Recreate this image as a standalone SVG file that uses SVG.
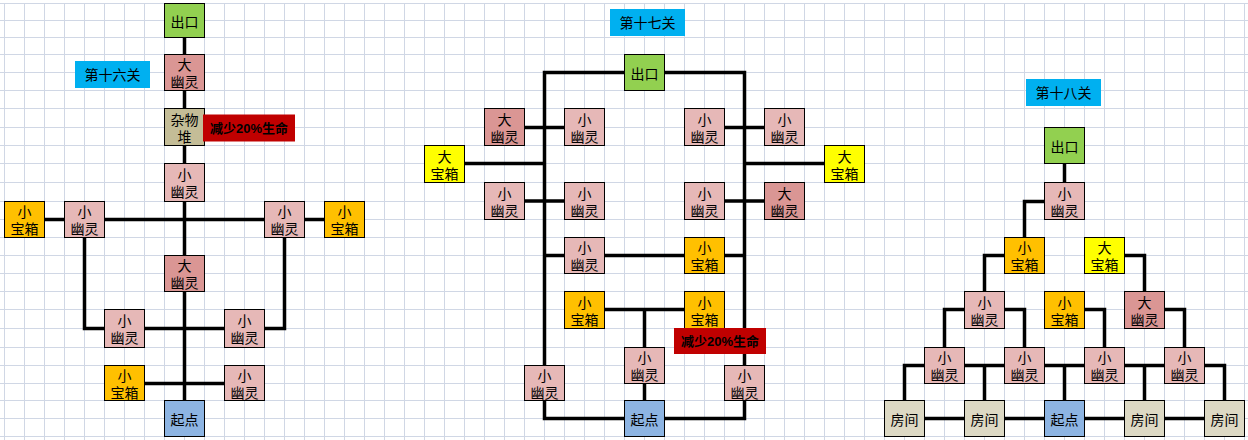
<svg xmlns="http://www.w3.org/2000/svg" width="1248" height="440" viewBox="0 0 1248 440">
<defs>
<style>
.box{stroke:#000;stroke-width:1}
.exit{fill:#92D050}.bg{fill:#DA9694}.sg{fill:#E6B8B7}.junk{fill:#C4BD97}.sc{fill:#FFC000}.bc{fill:#FFFF00}.start{fill:#8DB4E2}.room{fill:#DDD9C4}
.lbl{fill:#00B0F0}.warn{fill:#C00000}
text{font-family:"Liberation Sans","Noto Sans CJK SC",sans-serif;font-size:14px;text-anchor:middle;fill:#000}
text.w{font-weight:bold;font-size:13px;fill:#000}
.conn{fill:none;stroke:#000;stroke-width:3.5;stroke-linejoin:miter;stroke-linecap:butt}
.grid{fill:none;stroke:#D0D7E5;stroke-width:1}
</style>
<pattern id="vg" x="0" y="0" width="20" height="10" patternUnits="userSpaceOnUse"><rect x="4" y="0" width="1" height="10" fill="#D0D7E5"/></pattern>
</defs>
<rect width="1248" height="440" fill="#fff"/>
<g id="grid">
<rect x="0" y="3" width="1248" height="437" fill="url(#vg)"/>
<path class="grid" d="M0 3.5H1248M0 20.5H1248M0 37.5H1248M0 54.5H1248M0 72.5H1248M0 90.5H1248M0 108.5H1248M0 127.5H1248M0 145.5H1248M0 163.5H1248M0 182.5H1248M0 201.5H1248M0 219.5H1248M0 237.5H1248M0 255.5H1248M0 273.5H1248M0 291.5H1248M0 309.5H1248M0 328.5H1248M0 347.5H1248M0 365.5H1248M0 383.5H1248M0 400.5H1248M0 418.5H1248M0 436.5H1248"/>
</g>
<g id="connectors" class="conn">
<path d="M184.5 37V400"/>
<path d="M44 219.5H324"/>
<path d="M84.5 237V328.5H284.5V237"/>
<path d="M144 383.5H224"/>
<path d="M624 72.5H544.5V418.5H744.5V72.5H664"/>
<path d="M524 127.5H564M724 127.5H764"/>
<path d="M464 163.5H544M744 163.5H824"/>
<path d="M524 201H564M724 201H764"/>
<path d="M544.5 255.5H744.5"/>
<path d="M604 309.5H684M644.5 309.5V400"/>
<path d="M1064.5 163V182"/>
<path d="M1044 201.5H1024.5V237"/>
<path d="M1004 255.5H984.5V291M1124 255.5H1144.5V291"/>
<path d="M964 309.5H944.5V347M1004 309.5H1024.5V347M1084 309.5H1104.5V347M1164 309.5H1184.5V347"/>
<path d="M904.5 400V365.5H1224.5V400M984.5 365.5V400M1064.5 365.5V400M1144.5 365.5V400"/>
<path d="M924 418.5H1204"/>
</g>
<!-- Stage 16 -->
<g id="s16-label"><rect class="lbl" x="75" y="61" width="75" height="27"/><text x="112.5" y="80">第十六关</text></g>
<g id="s16-exit"><rect class="box exit" x="164.5" y="3.5" width="40" height="34"/><text x="184.5" y="27">出口</text></g>
<g id="s16-bg1"><rect class="box bg" x="164.5" y="54.5" width="40" height="36"/><text x="184.5" y="70">大<tspan x="184.5" dy="17">幽灵</tspan></text></g>
<g id="s16-junk"><rect class="box junk" x="164.5" y="108.5" width="40" height="37"/><text x="184.5" y="124.5">杂物<tspan x="184.5" dy="17">堆</tspan></text></g>
<g id="s16-sg1"><rect class="box sg" x="164.5" y="163.5" width="40" height="38"/><text x="184.5" y="180">小<tspan x="184.5" dy="17">幽灵</tspan></text></g>
<g id="s16-sc1"><rect class="box sc" x="4.5" y="201.5" width="40" height="36"/><text x="24.5" y="217">小<tspan x="24.5" dy="17">宝箱</tspan></text></g>
<g id="s16-sg2"><rect class="box sg" x="64.5" y="201.5" width="40" height="36"/><text x="84.5" y="217">小<tspan x="84.5" dy="17">幽灵</tspan></text></g>
<g id="s16-sg3"><rect class="box sg" x="264.5" y="201.5" width="40" height="36"/><text x="284.5" y="217">小<tspan x="284.5" dy="17">幽灵</tspan></text></g>
<g id="s16-sc2"><rect class="box sc" x="324.5" y="201.5" width="40" height="36"/><text x="344.5" y="217">小<tspan x="344.5" dy="17">宝箱</tspan></text></g>
<g id="s16-bg2"><rect class="box bg" x="164.5" y="255.5" width="40" height="36"/><text x="184.5" y="271">大<tspan x="184.5" dy="17">幽灵</tspan></text></g>
<g id="s16-sg4"><rect class="box sg" x="104.5" y="309.5" width="40" height="38"/><text x="124.5" y="326">小<tspan x="124.5" dy="17">幽灵</tspan></text></g>
<g id="s16-sg5"><rect class="box sg" x="224.5" y="309.5" width="40" height="38"/><text x="244.5" y="326">小<tspan x="244.5" dy="17">幽灵</tspan></text></g>
<g id="s16-sc3"><rect class="box sc" x="104.5" y="365.5" width="40" height="35"/><text x="124.5" y="380.5">小<tspan x="124.5" dy="17">宝箱</tspan></text></g>
<g id="s16-sg6"><rect class="box sg" x="224.5" y="365.5" width="40" height="35"/><text x="244.5" y="380.5">小<tspan x="244.5" dy="17">幽灵</tspan></text></g>
<g id="s16-start"><rect class="box start" x="164.5" y="400.5" width="40" height="36"/><text x="184.5" y="424.5">起点</text></g>
<g id="s16-warn"><rect class="warn" x="203" y="114.5" width="92" height="27"/><text class="w" x="249" y="132.5">减少20%生命</text></g>
<!-- Stage 17 -->
<g id="s17-label"><rect class="lbl" x="610" y="9" width="75" height="27"/><text x="647.5" y="28">第十七关</text></g>
<g id="s17-exit"><rect class="box exit" x="624.5" y="54.5" width="40" height="36"/><text x="644.5" y="79">出口</text></g>
<g id="s17-bg1"><rect class="box bg" x="484.5" y="108.5" width="40" height="37"/><text x="504.5" y="124.5">大<tspan x="504.5" dy="17">幽灵</tspan></text></g>
<g id="s17-sg1"><rect class="box sg" x="564.5" y="108.5" width="40" height="37"/><text x="584.5" y="124.5">小<tspan x="584.5" dy="17">幽灵</tspan></text></g>
<g id="s17-sg2"><rect class="box sg" x="684.5" y="108.5" width="40" height="37"/><text x="704.5" y="124.5">小<tspan x="704.5" dy="17">幽灵</tspan></text></g>
<g id="s17-sg3"><rect class="box sg" x="764.5" y="108.5" width="40" height="37"/><text x="784.5" y="124.5">小<tspan x="784.5" dy="17">幽灵</tspan></text></g>
<g id="s17-bc1"><rect class="box bc" x="424.5" y="145.5" width="40" height="37"/><text x="444.5" y="161.5">大<tspan x="444.5" dy="17">宝箱</tspan></text></g>
<g id="s17-bc2"><rect class="box bc" x="824.5" y="145.5" width="40" height="37"/><text x="844.5" y="161.5">大<tspan x="844.5" dy="17">宝箱</tspan></text></g>
<g id="s17-sg4"><rect class="box sg" x="484.5" y="182.5" width="40" height="37"/><text x="504.5" y="198.5">小<tspan x="504.5" dy="17">幽灵</tspan></text></g>
<g id="s17-sg5"><rect class="box sg" x="564.5" y="182.5" width="40" height="37"/><text x="584.5" y="198.5">小<tspan x="584.5" dy="17">幽灵</tspan></text></g>
<g id="s17-sg6"><rect class="box sg" x="684.5" y="182.5" width="40" height="37"/><text x="704.5" y="198.5">小<tspan x="704.5" dy="17">幽灵</tspan></text></g>
<g id="s17-bg2"><rect class="box bg" x="764.5" y="182.5" width="40" height="37"/><text x="784.5" y="198.5">大<tspan x="784.5" dy="17">幽灵</tspan></text></g>
<g id="s17-sg7"><rect class="box sg" x="564.5" y="237.5" width="40" height="36"/><text x="584.5" y="253">小<tspan x="584.5" dy="17">幽灵</tspan></text></g>
<g id="s17-sc1"><rect class="box sc" x="684.5" y="237.5" width="40" height="36"/><text x="704.5" y="253">小<tspan x="704.5" dy="17">宝箱</tspan></text></g>
<g id="s17-sc2"><rect class="box sc" x="564.5" y="291.5" width="40" height="37"/><text x="584.5" y="307.5">小<tspan x="584.5" dy="17">宝箱</tspan></text></g>
<g id="s17-sc3"><rect class="box sc" x="684.5" y="291.5" width="40" height="37"/><text x="704.5" y="307.5">小<tspan x="704.5" dy="17">宝箱</tspan></text></g>
<g id="s17-sg8"><rect class="box sg" x="624.5" y="347.5" width="40" height="36"/><text x="644.5" y="363">小<tspan x="644.5" dy="17">幽灵</tspan></text></g>
<g id="s17-sg9"><rect class="box sg" x="524.5" y="365.5" width="40" height="35"/><text x="544.5" y="380.5">小<tspan x="544.5" dy="17">幽灵</tspan></text></g>
<g id="s17-sg10"><rect class="box sg" x="724.5" y="365.5" width="40" height="35"/><text x="744.5" y="380.5">小<tspan x="744.5" dy="17">幽灵</tspan></text></g>
<g id="s17-start"><rect class="box start" x="624.5" y="400.5" width="40" height="36"/><text x="644.5" y="424.5">起点</text></g>
<g id="s17-warn"><rect class="warn" x="674" y="328" width="92" height="26"/><text class="w" x="720" y="346">减少20%生命</text></g>
<!-- Stage 18 -->
<g id="s18-label"><rect class="lbl" x="1026" y="79" width="75" height="27"/><text x="1063.5" y="98">第十八关</text></g>
<g id="s18-exit"><rect class="box exit" x="1044.5" y="127.5" width="40" height="36"/><text x="1064.5" y="152">出口</text></g>
<g id="s18-sg1"><rect class="box sg" x="1044.5" y="182.5" width="40" height="37"/><text x="1064.5" y="198.5">小<tspan x="1064.5" dy="17">幽灵</tspan></text></g>
<g id="s18-sc1"><rect class="box sc" x="1004.5" y="237.5" width="40" height="36"/><text x="1024.5" y="253">小<tspan x="1024.5" dy="17">宝箱</tspan></text></g>
<g id="s18-bc1"><rect class="box bc" x="1084.5" y="237.5" width="40" height="36"/><text x="1104.5" y="253">大<tspan x="1104.5" dy="17">宝箱</tspan></text></g>
<g id="s18-sg2"><rect class="box sg" x="964.5" y="291.5" width="40" height="37"/><text x="984.5" y="307.5">小<tspan x="984.5" dy="17">幽灵</tspan></text></g>
<g id="s18-sc2"><rect class="box sc" x="1044.5" y="291.5" width="40" height="37"/><text x="1064.5" y="307.5">小<tspan x="1064.5" dy="17">宝箱</tspan></text></g>
<g id="s18-bg1"><rect class="box bg" x="1124.5" y="291.5" width="40" height="37"/><text x="1144.5" y="307.5">大<tspan x="1144.5" dy="17">幽灵</tspan></text></g>
<g id="s18-sg3"><rect class="box sg" x="924.5" y="347.5" width="40" height="36"/><text x="944.5" y="363">小<tspan x="944.5" dy="17">幽灵</tspan></text></g>
<g id="s18-sg4"><rect class="box sg" x="1004.5" y="347.5" width="40" height="36"/><text x="1024.5" y="363">小<tspan x="1024.5" dy="17">幽灵</tspan></text></g>
<g id="s18-sg5"><rect class="box sg" x="1084.5" y="347.5" width="40" height="36"/><text x="1104.5" y="363">小<tspan x="1104.5" dy="17">幽灵</tspan></text></g>
<g id="s18-sg6"><rect class="box sg" x="1164.5" y="347.5" width="40" height="36"/><text x="1184.5" y="363">小<tspan x="1184.5" dy="17">幽灵</tspan></text></g>
<g id="s18-room1"><rect class="box room" x="884.5" y="400.5" width="40" height="36"/><text x="904.5" y="424.5">房间</text></g>
<g id="s18-room2"><rect class="box room" x="964.5" y="400.5" width="40" height="36"/><text x="984.5" y="424.5">房间</text></g>
<g id="s18-start"><rect class="box start" x="1044.5" y="400.5" width="40" height="36"/><text x="1064.5" y="424.5">起点</text></g>
<g id="s18-room3"><rect class="box room" x="1124.5" y="400.5" width="40" height="36"/><text x="1144.5" y="424.5">房间</text></g>
<g id="s18-room4"><rect class="box room" x="1204.5" y="400.5" width="40" height="36"/><text x="1224.5" y="424.5">房间</text></g>
</svg>
